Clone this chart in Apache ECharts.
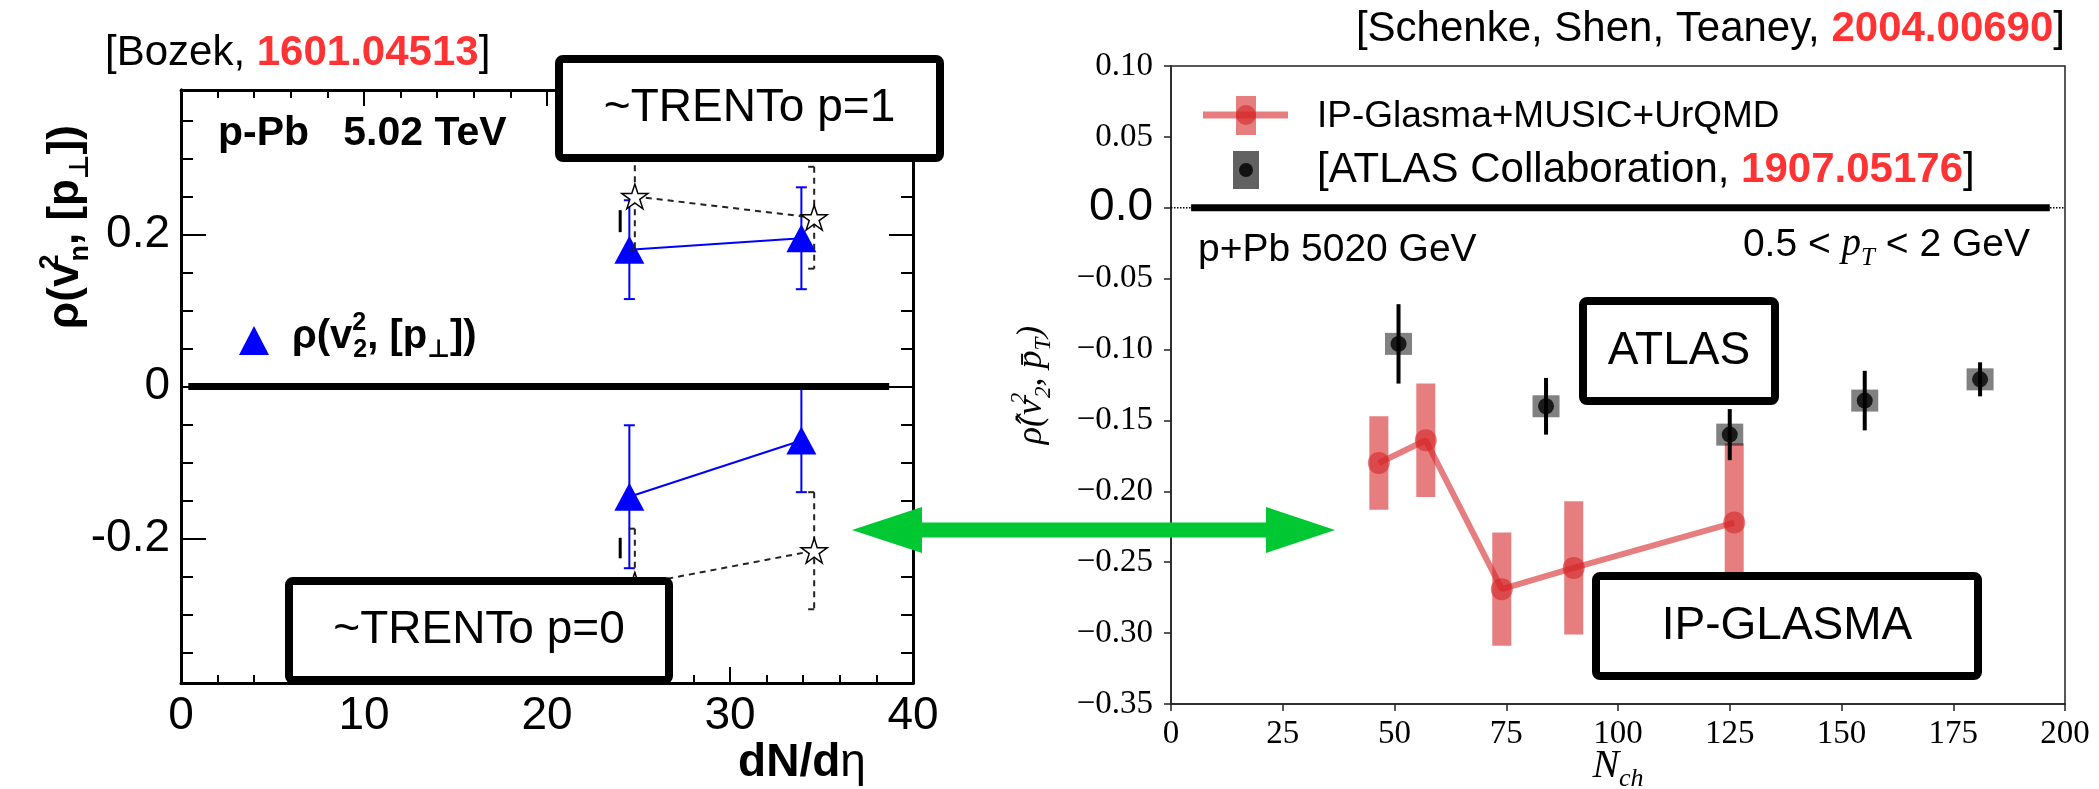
<!DOCTYPE html>
<html>
<head>
<meta charset="utf-8">
<script src="https://cdn.jsdelivr.net/npm/echarts@6/dist/echarts.min.js"></script>
<style>
  html, body { margin: 0; padding: 0; background: #fff; }
  #chart { width: 2099px; height: 789px; }
</style>
</head>
<body>
<div id="chart"></div>
<script>
// ---- Left panel: rho(v_2^2,[p_perp]) vs dN/deta, p-Pb 5.02 TeV ----
const dndeta = [24.5, 33.9];                 // triangle positions
const rhoUpper = [0.180, 0.195];             // upper (p=1-like) set
const rhoUpperErr = [0.065, 0.067];
const rhoLower = [-0.145, -0.071];           // lower (p=0-like) set
const rhoLowerErr = [0.094, 0.068];
const dndetaStar = [24.8, 34.6];             // open-star reference points
const starUpper = [0.250, 0.222];
const starUpperErr = [0.070, 0.067];
const starLower = [-0.261, -0.216];
const starLowerErr = [0.074, 0.077];
const sideMarkN = 24.0;                      // short black side marks
const sideMarks = [[0.203, 0.232], [-0.226, -0.199]];
const leftXTicks = [0, 40, 10];              // min, max, step
const leftYMajor = [-0.2, 0, 0.2];
const leftYMinor = [-0.35, -0.3, -0.25, -0.15, -0.1, -0.05, 0.05, 0.1, 0.15, 0.25, 0.3, 0.35];
const leftYRange = [-0.39, 0.39];
const leftZeroSpan = [0.4, 38.7];

// ---- Right panel: rho-hat(v_2^2, pT) vs N_ch ----
const glasmaN = [46.5, 57.0, 74.0, 90.1, 126.0];
const glasmaRho = [-0.180, -0.164, -0.269, -0.254, -0.222];
const glasmaErr = [0.033, 0.040, 0.040, 0.047, 0.056];
const atlasN = [50.9, 83.9, 125.0, 155.2, 181.0];
const atlasRho = [-0.096, -0.140, -0.160, -0.136, -0.121];
const atlasErr = [0.028, 0.020, 0.018, 0.021, 0.012];
const rightXTicks = [0, 200, 25];
const rightYTicks = [-0.35, 0.10, 0.05];
const rightZeroSpan = [4.5, 196.6];

const SANS = "'Liberation Sans', 'DejaVu Sans', sans-serif";
const SERIF = "'Liberation Serif', 'DejaVu Serif', serif";
const RED = 'rgba(214,39,40,0.6)';
const GREY = 'rgba(0,0,0,0.62)';
const BLUE = '#0000ff';
const STAR = 'path://M50 2 L61.2 36.6 L97.6 36.6 L68.2 58 L79.4 92.6 L50 71.2 L20.6 92.6 L31.8 58 L2.4 36.6 L38.8 36.6 Z';

const zip3 = (a, b, c) => a.map((v, i) => [v, b[i], c[i]]);
const zip2 = (a, b) => a.map((v, i) => [v, b[i]]);

function errBars(o) {
  return function (params, api) {
    const x = api.value(0), y = api.value(1), e = api.value(2);
    const hi = api.coord([x, y + e]);
    const lo = api.coord([x, y - e]);
    const st = { stroke: o.color, lineWidth: o.width };
    if (o.dash) st.lineDash = o.dash;
    const kids = [{ type: 'line', shape: { x1: hi[0], y1: hi[1], x2: lo[0], y2: lo[1] }, style: st }];
    if (o.cap) {
      const l = o.oneSided ? o.cap : o.cap / 2;
      const r = o.oneSided ? 0 : o.cap / 2;
      const cs = { stroke: o.color, lineWidth: o.width };
      kids.push({ type: 'line', shape: { x1: hi[0] - l, y1: hi[1], x2: hi[0] + r, y2: hi[1] }, style: cs });
      kids.push({ type: 'line', shape: { x1: lo[0] - l, y1: lo[1], x2: lo[0] + r, y2: lo[1] }, style: cs });
    }
    return { type: 'group', children: kids };
  };
}

function bandBars(width, fill) {
  return function (params, api) {
    const x = api.value(0), y = api.value(1), e = api.value(2);
    const hi = api.coord([x, y + e]);
    const lo = api.coord([x, y - e]);
    return { type: 'rect', shape: { x: hi[0] - width / 2, y: hi[1], width: width, height: lo[1] - hi[1] }, style: { fill: fill } };
  };
}

function segment(params, api) {
  const x = api.value(0);
  const a = api.coord([x, api.value(1)]);
  const b = api.coord([x, api.value(2)]);
  return { type: 'line', shape: { x1: a[0], y1: a[1], x2: b[0], y2: b[1] }, style: { stroke: '#000', lineWidth: 3 } };
}

function leftX(pos, labels) {
  return {
    gridIndex: 0, type: 'value', position: pos,
    min: leftXTicks[0], max: leftXTicks[1], interval: leftXTicks[2],
    axisLine: { show: true, onZero: false, lineStyle: { color: '#000', width: 3 } },
    axisTick: { show: true, inside: true, length: 16, lineStyle: { color: '#000', width: 2 } },
    minorTick: { show: true, splitNumber: 5, length: 8, lineStyle: { color: '#000', width: 2 } },
    axisLabel: { show: labels, fontSize: 46, fontFamily: SANS, color: '#000', margin: 10 },
    splitLine: { show: false }
  };
}

function leftY(pos, ticks, len, labels) {
  return {
    gridIndex: 0, type: 'value', position: pos,
    min: leftYRange[0], max: leftYRange[1],
    axisLine: { show: true, onZero: false, lineStyle: { color: '#000', width: 3 } },
    axisTick: { show: true, inside: true, length: len, customValues: ticks, lineStyle: { color: '#000', width: 2 } },
    axisLabel: labels ? {
      show: true, customValues: ticks, fontSize: 46, fontFamily: SANS, color: '#000', margin: 11,
      formatter: v => (Math.abs(v) < 1e-9 ? '0' : (v < 0 ? '-' : '') + Math.abs(v).toFixed(1))
    } : { show: false },
    splitLine: { show: false }
  };
}

// text helpers for the graphic layer
function txt(x, y, text, rich, align, extra) {
  return Object.assign({
    type: 'text', x: x, y: y, z: 120,
    style: { text: text, rich: rich, align: align || 'left', verticalAlign: 'middle', fill: '#000' }
  }, extra || {});
}

const cite = {
  k: { fontSize: 42, fontFamily: SANS, fill: '#000' },
  r: { fontSize: 42, fontFamily: SANS, fontWeight: 'bold', fill: '#ff3333' }
};
// "sk" is a superscript that takes no advance, so the following subscript stacks under it
const boldMath = (size) => ({
  b: { fontSize: size, fontFamily: SANS, fontWeight: 'bold', fill: '#000', lineHeight: Math.round(size * 1.3) },
  sk: { fontSize: Math.round(size * 0.62), fontFamily: SANS, fontWeight: 'bold', fill: '#000', verticalAlign: 'top', lineHeight: Math.round(size * 0.5), width: 1 },
  sp: { fontSize: Math.round(size * 0.62), fontFamily: SANS, fontWeight: 'bold', fill: '#000', verticalAlign: 'top', lineHeight: Math.round(size * 0.5) },
  sb: { fontSize: Math.round(size * 0.62), fontFamily: SANS, fontWeight: 'bold', fill: '#000', verticalAlign: 'bottom', lineHeight: Math.round(size * 0.5) }
});
const itMath = (size) => ({
  i: { fontSize: size, fontFamily: SERIF, fontStyle: 'italic', fill: '#000', lineHeight: Math.round(size * 1.3) },
  r: { fontSize: size, fontFamily: SERIF, fill: '#000', lineHeight: Math.round(size * 1.3) },
  s: { fontSize: size, fontFamily: SANS, fill: '#000', lineHeight: Math.round(size * 1.3) },
  sk: { fontSize: Math.round(size * 0.65), fontFamily: SERIF, fontStyle: 'italic', fill: '#000', verticalAlign: 'top', lineHeight: Math.round(size * 0.55), width: 1 },
  sp: { fontSize: Math.round(size * 0.65), fontFamily: SERIF, fontStyle: 'italic', fill: '#000', verticalAlign: 'top', lineHeight: Math.round(size * 0.55) },
  sb: { fontSize: Math.round(size * 0.65), fontFamily: SERIF, fontStyle: 'italic', fill: '#000', verticalAlign: 'bottom', lineHeight: Math.round(size * 0.55) }
});

function box(x, y, w, h, label, size) {
  return [
    { type: 'rect', z: 110, shape: { x: x, y: y, width: w, height: h, r: 4 }, style: { fill: '#fff', stroke: '#000', lineWidth: 8 } },
    { type: 'text', z: 111, x: x + w / 2, y: y + h / 2,
      style: { text: label, fontSize: size, fontFamily: SANS, fill: '#000', align: 'center', verticalAlign: 'middle' } }
  ];
}

const graphics = [].concat(
  [
    txt(105, 53, '{k|[Bozek, }{r|1601.04513}{k|]}', cite),
    txt(2065, 29, '{k|[Schenke, Shen, Teaney, }{r|2004.00690}{k|]}', cite, 'right'),
    txt(218, 134, '{b|p-Pb   5.02 TeV}', boldMath(41)),
    { type: 'polygon', z: 120, shape: { points: [[254, 326], [239, 355], [269, 355]] }, style: { fill: BLUE } },
    txt(292, 337, '{b|ρ(v}{sk|2}{sb|2}{b|, [p}{sb|⊥}{b|])}', boldMath(40)),
    txt(66, 227, '{b|ρ(v}{sk|2}{sb|n}{b|, [p}{sb|⊥}{b|])}', boldMath(44), 'center', { rotation: Math.PI / 2 }),
    txt(802, 763, '{b|dN/d}{e|η}', {
      b: { fontSize: 46, fontFamily: SANS, fontWeight: 'bold', fill: '#000' },
      e: { fontSize: 46, fontFamily: SANS, fill: '#000' }
    }, 'center'),
    // right-panel legend
    { type: 'line', z: 120, shape: { x1: 1203, y1: 115, x2: 1288, y2: 115 }, style: { stroke: RED, lineWidth: 7 } },
    { type: 'rect', z: 120, shape: { x: 1236, y: 96, width: 20, height: 39 }, style: { fill: RED } },
    { type: 'circle', z: 121, shape: { cx: 1246, cy: 115, r: 10 }, style: { fill: RED } },
    { type: 'rect', z: 120, shape: { x: 1233, y: 151, width: 26, height: 38 }, style: { fill: GREY } },
    { type: 'circle', z: 121, shape: { cx: 1246, cy: 170, r: 7 }, style: { fill: '#111' } },
    txt(1317, 117, '{s|IP-Glasma+MUSIC+UrQMD}', { s: { fontSize: 37, fontFamily: SANS, fill: '#000' } }),
    txt(1317, 170, '{k|[ATLAS Collaboration, }{r|1907.05176}{k|]}', cite),
    txt(1198, 250, '{s|p+Pb 5020 GeV}', { s: { fontSize: 39, fontFamily: SANS, fill: '#000' } }),
    txt(2030, 245, '{s|0.5 < }{i|p}{sb|T}{s| < 2 GeV}', itMath(39), 'right'),
    txt(1618, 766, '{i|N}{sb|ch}', itMath(40), 'center'),
    txt(1032, 385, '{i|ρ̂(v}{sk|2}{sb|2}{i|, p̄}{sb|T}{i|)}', itMath(36), 'center', { rotation: Math.PI / 2 }),
    // green double arrow linking the two panels
    { type: 'polygon', z: 115, shape: { points: [
      [852, 530], [922, 507], [922, 522.5], [1266, 522.5], [1266, 507], [1335, 530],
      [1266, 553], [1266, 537.5], [922, 537.5], [922, 553]
    ] }, style: { fill: '#00c832' } }
  ],
  box(559, 59, 381, 99, '~TRENTo p=1', 46),
  box(289, 581, 380, 99, '~TRENTo p=0', 46),
  box(1583, 301, 192, 100, 'ATLAS', 46),
  box(1596, 576, 382, 100, 'IP-GLASMA', 46)
);

const option = {
  animation: false,
  backgroundColor: '#fff',
  grid: [
    { left: 181, top: 90, width: 732, height: 593, show: false },
    { left: 1171, top: 66, width: 894, height: 638, show: true, borderColor: '#222', borderWidth: 1.5, backgroundColor: 'transparent' }
  ],
  xAxis: [
    leftX('bottom', true),
    leftX('top', false),
    {
      gridIndex: 1, type: 'value', position: 'bottom',
      min: rightXTicks[0], max: rightXTicks[1], interval: rightXTicks[2],
      axisLine: { show: true, onZero: false, lineStyle: { color: '#222', width: 1.5 } },
      axisTick: { show: true, length: 7, lineStyle: { color: '#222', width: 1.5 } },
      axisLabel: { fontSize: 33, fontFamily: SERIF, color: '#000', margin: 14 },
      splitLine: { show: false }
    }
  ],
  yAxis: [
    leftY('left', leftYMajor, 25, true),
    leftY('left', leftYMinor, 12, false),
    leftY('right', leftYMajor, 24, false),
    leftY('right', leftYMinor, 12, false),
    {
      gridIndex: 1, type: 'value', position: 'left',
      min: rightYTicks[0], max: rightYTicks[1], interval: rightYTicks[2],
      axisLine: { show: true, onZero: false, lineStyle: { color: '#222', width: 1.5 } },
      axisTick: { show: true, length: 7, lineStyle: { color: '#222', width: 1.5 } },
      axisLabel: {
        fontSize: 33, fontFamily: SERIF, color: '#000', margin: 18,
        formatter: v => (Math.abs(v) < 1e-9 ? '{z|0.0}' : (v < 0 ? '\u2212' : '') + Math.abs(v).toFixed(2)),
        rich: { z: { fontSize: 46, fontFamily: SANS, color: '#000' } }
      },
      splitLine: { show: false }
    }
  ],
  series: [
    // left panel
    { type: 'line', xAxisIndex: 0, yAxisIndex: 0, z: 5, symbol: 'none', silent: true,
      data: leftZeroSpan.map(x => [x, 0]), lineStyle: { color: '#000', width: 7 } },
    { type: 'custom', xAxisIndex: 0, yAxisIndex: 0, z: 3,
      renderItem: errBars({ color: BLUE, width: 2, cap: 11 }),
      data: zip3(dndeta, rhoUpper, rhoUpperErr).concat(zip3(dndeta, rhoLower, rhoLowerErr)) },
    { type: 'line', xAxisIndex: 0, yAxisIndex: 0, z: 4, symbol: 'triangle', symbolSize: [30, 28],
      data: zip2(dndeta, rhoUpper), lineStyle: { color: BLUE, width: 2 }, itemStyle: { color: BLUE } },
    { type: 'line', xAxisIndex: 0, yAxisIndex: 0, z: 4, symbol: 'triangle', symbolSize: [30, 28],
      data: zip2(dndeta, rhoLower), lineStyle: { color: BLUE, width: 2 }, itemStyle: { color: BLUE } },
    { type: 'custom', xAxisIndex: 0, yAxisIndex: 0, z: 6,
      renderItem: errBars({ color: '#222', width: 2, cap: 6, oneSided: true, dash: [6, 5] }),
      data: zip3(dndetaStar, starUpper, starUpperErr).concat(zip3(dndetaStar, starLower, starLowerErr)) },
    { type: 'line', xAxisIndex: 0, yAxisIndex: 0, z: 7, symbol: STAR, symbolSize: 26, symbolKeepAspect: true,
      data: zip2(dndetaStar, starUpper), lineStyle: { color: '#222', width: 2, type: [6, 5] },
      itemStyle: { color: '#fff', borderColor: '#000', borderWidth: 1.5 } },
    { type: 'line', xAxisIndex: 0, yAxisIndex: 0, z: 7, symbol: STAR, symbolSize: 26, symbolKeepAspect: true,
      data: zip2(dndetaStar, starLower), lineStyle: { color: '#222', width: 2, type: [6, 5] },
      itemStyle: { color: '#fff', borderColor: '#000', borderWidth: 1.5 } },
    { type: 'custom', xAxisIndex: 0, yAxisIndex: 0, z: 6, renderItem: segment,
      data: sideMarks.map(m => [sideMarkN, m[0], m[1]]) },

    // right panel
    { type: 'line', xAxisIndex: 2, yAxisIndex: 4, z: 2, symbol: 'none', silent: true,
      data: [[rightXTicks[0], 0], [rightXTicks[1], 0]], lineStyle: { color: '#000', width: 1.5, type: 'dotted' } },
    { type: 'line', xAxisIndex: 2, yAxisIndex: 4, z: 3, symbol: 'none', silent: true,
      data: rightZeroSpan.map(x => [x, 0]), lineStyle: { color: '#000', width: 7 } },
    { type: 'custom', xAxisIndex: 2, yAxisIndex: 4, z: 3,
      renderItem: bandBars(19, RED), data: zip3(glasmaN, glasmaRho, glasmaErr) },
    { type: 'line', xAxisIndex: 2, yAxisIndex: 4, z: 4, symbol: 'circle', symbolSize: 22,
      data: zip2(glasmaN, glasmaRho), lineStyle: { color: RED, width: 6 }, itemStyle: { color: RED } },
    { type: 'scatter', xAxisIndex: 2, yAxisIndex: 4, z: 4, symbol: 'rect', symbolSize: [27, 22],
      data: zip2(atlasN, atlasRho), itemStyle: { color: GREY } },
    { type: 'custom', xAxisIndex: 2, yAxisIndex: 4, z: 5,
      renderItem: errBars({ color: '#000', width: 4 }), data: zip3(atlasN, atlasRho, atlasErr) },
    { type: 'scatter', xAxisIndex: 2, yAxisIndex: 4, z: 6, symbol: 'circle', symbolSize: 16,
      data: zip2(atlasN, atlasRho), itemStyle: { color: '#000' } }
  ],
  graphic: { elements: graphics }
};

const chart = echarts.init(document.getElementById('chart'), null, { renderer: 'canvas', devicePixelRatio: 1 });
chart.setOption(option);
</script>
</body>
</html>
